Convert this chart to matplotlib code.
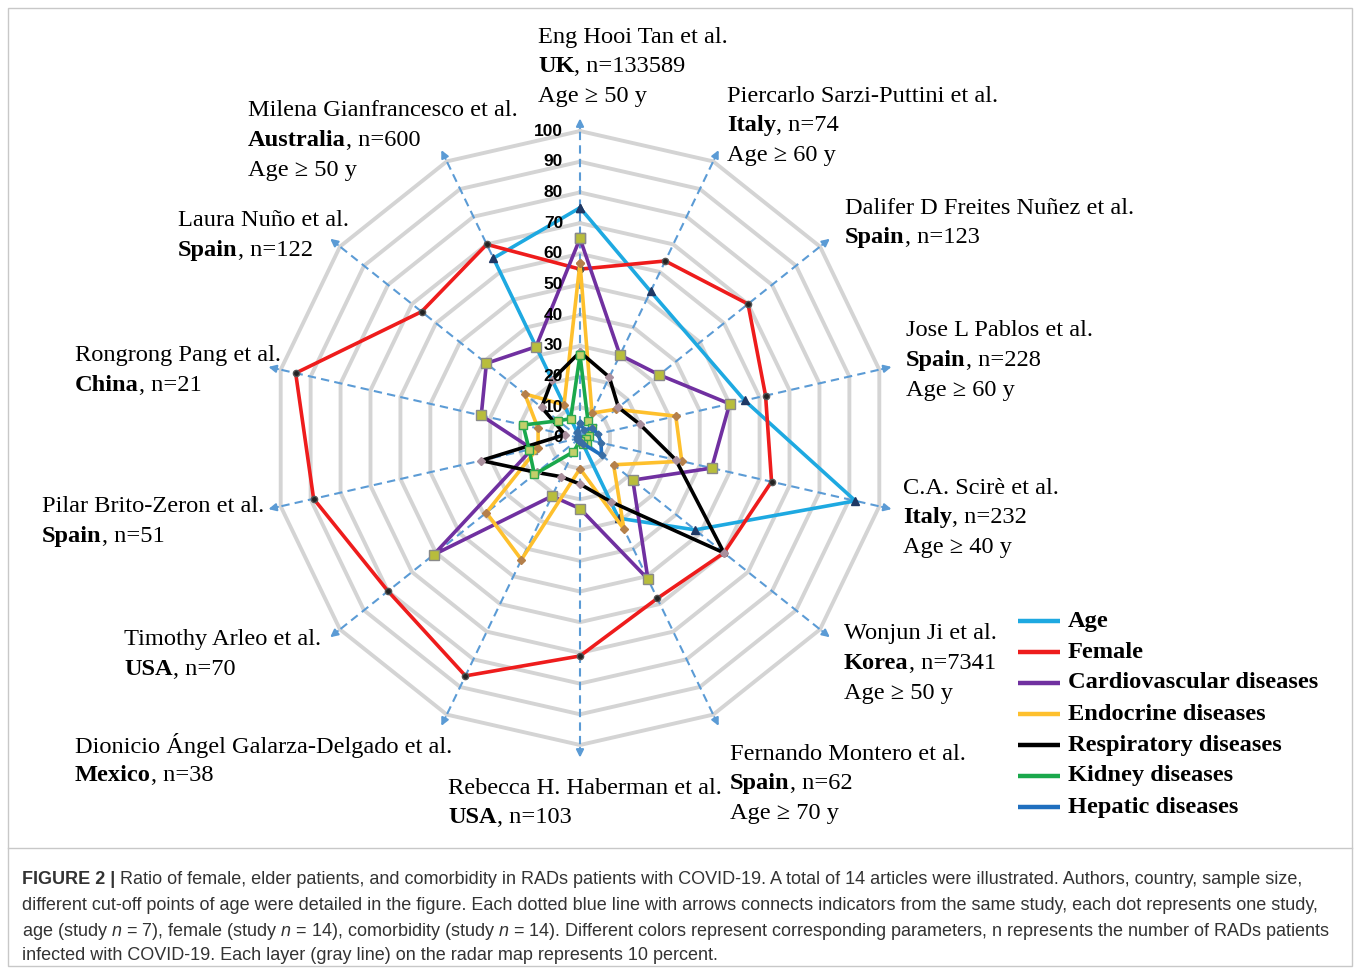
import numpy as np
import matplotlib.pyplot as plt
from matplotlib.patches import Rectangle

# --- datos del radar (porcentajes) ---
authors = ["Eng Hooi Tan et al.", "Piercarlo Sarzi-Puttini et al.",
           "Dalifer D Freites Nuñez et al.", "Jose L Pablos et al.",
           "C.A. Scirè et al.", "Wonjun Ji et al.", "Fernando Montero et al.",
           "Rebecca H. Haberman et al.", "Dionicio Ángel Galarza-Delgado et al.",
           "Timothy Arleo et al.", "Pilar Brito-Zeron et al.",
           "Rongrong Pang et al.", "Laura Nuño et al.", "Milena Gianfrancesco et al."]
countries = ["UK", "Italy", "Spain", "Spain", "Italy", "Korea", "Spain",
             "USA", "Mexico", "USA", "Spain", "China", "Spain", "Australia"]
sizes = [133589, 74, 123, 228, 232, 7341, 62, 103, 38, 70, 51, 21, 122, 600]
age_cut = [50, 60, None, 60, 40, 50, 70, None, None, None, None, None, None, 50]

nan = np.nan
age = [75, 53, nan, 55, 92, 48, 29, nan, nan, nan, nan, nan, nan, 65]
female = [55, 64, 70, 62, 64, 60, 58, 71, 86, 80, 89, 95, 66, 70]
cardio = [65, 30, 33, 50, 44, 22, 51, 23, 21, 61, 16, 33, 39, 33]
endocrine = [57, 9, 15, 32, 34, 14, 33, 10, 44, 39, 14, 14, 23, 12]
respiratory = [28, 22, 16, 20, 32, 60, 23, 15, 14, 18, 33, 5, 16, 21]
kidney = [27, 6, 5, 3, 2, 3, 2, 1, 5, 19, 17, 19, 9, 7]
hepatic = [5, 3, 5, 6, 7, 9, 2, 1, 1, 1, 1, 1, 1, 2]

series_names = ["Age", "Female", "Cardiovascular diseases", "Endocrine diseases",
                "Respiratory diseases", "Kidney diseases", "Hepatic diseases"]
series_vals = [age, female, cardio, endocrine, respiratory, kidney, hepatic]
series_colors = ["#1ea9e1", "#ee1c1c", "#7030a0", "#fec02d", "#000000", "#1aa84c", "#1f6fbf"]
series_marks = [dict(marker="^", ms=6, mfc="#1f3864", mec="#1f3864"),
                dict(marker="o", ms=4.5, mfc="#222222", mec="#555555"),
                dict(marker="s", ms=6.5, mfc="#b8bd3c", mec="#8a8a8a", mew=1),
                dict(marker="D", ms=4.5, mfc="#b5804a", mec="#b5804a"),
                dict(marker="D", ms=4.5, mfc="#a98f9d", mec="#a98f9d"),
                dict(marker="s", ms=6, mfc="#c3cf6a", mec="#2ea84f", mew=1),
                dict(marker="D", ms=3.5, mfc="#3a6ea5", mec="#3a6ea5")]

# --- geometria de la figura (pixeles) ---
W, H = 1360, 974
CX, CY, S = 580, 438, 3.07


def d(px, py):
    return (px - CX) / S, (CY - py) / S


plt.rcParams["mathtext.fontset"] = "custom"
plt.rcParams["mathtext.it"] = "Liberation Sans:italic"
plt.rcParams["mathtext.rm"] = "Liberation Sans"

fig = plt.figure(figsize=(W / 100, H / 100), dpi=100)
ax = fig.add_axes([0, 0, 1, 1])
ax.set_xlim(-CX / S, (W - CX) / S)
ax.set_ylim((CY - H) / S, CY / S)
ax.axis("off")

n = len(authors)
ang = np.arange(n) * 2 * np.pi / n
closed = np.append(ang, ang[0])

# anillos grises (cada 10 %)
for lev in range(10, 101, 10):
    ax.plot(lev * np.sin(closed), lev * np.cos(closed), color="#d4d4d4", lw=2.8, zorder=1)

# ejes discontinuos con flecha
for a in ang:
    ax.plot([0, 101 * np.sin(a)], [0, 101 * np.cos(a)], color="#5b9bd5",
            lw=1.5, ls=(0, (4, 2.5)), zorder=2)
    ax.annotate("", xy=(105 * np.sin(a), 105 * np.cos(a)),
                xytext=(100 * np.sin(a), 100 * np.cos(a)),
                arrowprops=dict(arrowstyle="-|>", color="#5b9bd5", lw=1.5,
                                mutation_scale=11), zorder=2)

# series
for vals, col, mk in zip(series_vals, series_colors, series_marks):
    v = np.array(vals, dtype=float)
    ok = ~np.isnan(v)
    a = np.append(ang[ok], ang[ok][0])
    r = np.append(v[ok], v[ok][0])
    ax.plot(r * np.sin(a), r * np.cos(a), color=col, lw=2.6, zorder=3,
            solid_joinstyle="miter", **mk)

# etiquetas radiales
for lev in range(0, 101, 10):
    ax.text(-5.5, lev, str(lev), ha="right", va="center", fontsize=12.5,
            fontweight="bold", family="Liberation Sans", zorder=6)

# etiquetas de cada estudio
label_pos = [(538, 37), (727, 96), (845, 208), (906, 331), (903, 488), (844, 634),
             (730, 754), (448, 788), (75, 746), (124, 640), (42, 507), (75, 356),
             (178, 221), (248, 111)]
serif = ["Liberation Serif", "DejaVu Serif"]
FS = 17.6
LS = 29.7
for i in range(n):
    px, py = label_pos[i]
    ax.text(*d(px, py), authors[i], ha="left", va="center", fontsize=FS, family=serif)
    tb = ax.text(*d(px, py + LS), countries[i], ha="left", va="center",
                 fontsize=FS, family=serif, fontweight="bold")
    ax.annotate(f", n={sizes[i]}", xy=(1, 0), xycoords=tb, ha="left", va="bottom",
                fontsize=FS, family=serif)
    if age_cut[i] is not None:
        ax.text(*d(px, py + 2 * LS), f"Age \u2265 {age_cut[i]} y", ha="left",
                va="center", fontsize=FS, family=serif)

# leyenda
for k, (name, col) in enumerate(zip(series_names, series_colors)):
    y = 621 + 31 * k
    x0, y0 = d(1018, y)
    x1, _ = d(1060, y)
    ax.plot([x0, x1], [y0, y0], color=col, lw=3.2, solid_capstyle="butt")
    ax.text(*d(1068, y), name, ha="left", va="center", fontsize=FS,
            family=serif, fontweight="bold")

# marco
fig.add_artist(Rectangle((8 / W, 1 - 966 / H), 1344 / W, 958 / H, transform=fig.transFigure,
                         fill=False, ec="#c8c8c8", lw=1))
fig.add_artist(plt.Line2D([8 / W, 1352 / W], [1 - 848 / H] * 2, transform=fig.transFigure,
                          color="#c8c8c8", lw=1))

# pie de figura
CFS = 13.0
cap = dict(fontsize=CFS, family="Liberation Sans", color="#333333", va="center", ha="left")
t0 = fig.text(22 / W, 1 - 880 / H, "FIGURE 2 |", fontweight="bold", **cap)
ax.annotate(" Ratio of female, elder patients, and comorbidity in RADs patients with "
            "COVID-19. A total of 14 articles were illustrated. Authors, country, sample size,",
            xy=(1, 0), xycoords=t0, fontsize=CFS, family="Liberation Sans",
            color="#333333", va="bottom", ha="left")
fig.text(22 / W, 1 - 906 / H, "different cut-off points of age were detailed in the figure. "
         "Each dotted blue line with arrows connects indicators from the same study, "
         "each dot represents one study,", **cap)
fig.text(22 / W, 1 - 931 / H, "age (study $n$ = 7), female (study $n$ = 14), comorbidity "
         "(study $n$ = 14). Different colors represent corresponding parameters, n represents "
         "the number of RADs patients", **cap)
fig.text(22 / W, 1 - 956 / H, "infected with COVID-19. Each layer (gray line) on the radar "
         "map represents 10 percent.", **cap)

fig.savefig("out.png", dpi=100)
